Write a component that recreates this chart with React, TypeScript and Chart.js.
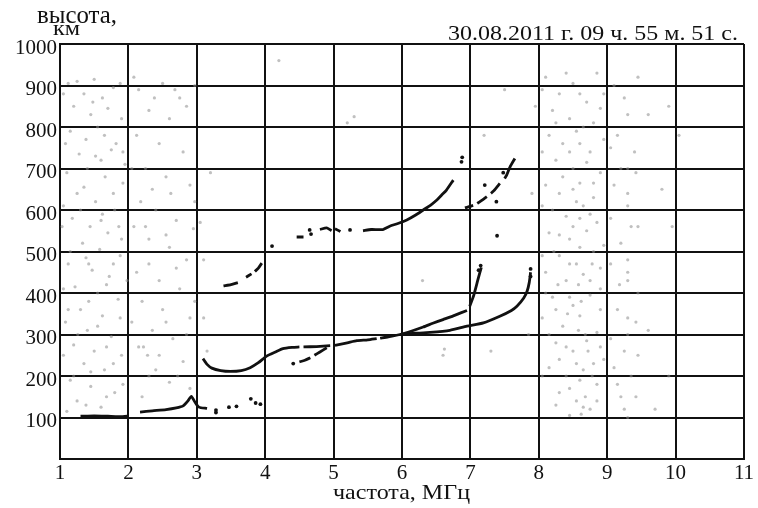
import React, { useEffect, useRef } from "react";
import { Chart, registerables } from "chart.js";

Chart.register(...registerables);

// ---- texts ----
const chartTitle = "30.08.2011 г. 09 ч. 55 м. 51 с.";
const yTitleLines = ["высота,", "км"];
const xTitle = "частота, МГц";

// ---- axes ----
const xMin = 1;
const xMax = 11;
const xStep = 1;
const yMin = 0;
const yMax = 1000;
const yStep = 100;

// ---- traces: [frequency MHz, height km], null = gap ----
type P = [number, number] | null;

const eTrace: P[] = [
  [1.3, 103], [1.5, 104], [1.7, 103], [1.85, 102], [1.98, 103], null,
  [2.17, 113], [2.35, 116], [2.55, 119], [2.7, 123], [2.8, 128], [2.87, 140], [2.92, 151],
  [2.97, 138], [3.03, 125], [3.15, 122],
];
const eDots: [number, number][] = [
  [3.28, 118], [3.28, 112], [3.47, 125], [3.58, 127], [3.79, 145], [3.86, 135], [3.93, 132],
];

const fTraceO: P[] = [
  [3.09, 242], [3.15, 228], [3.22, 219], [3.35, 213], [3.49, 211], [3.65, 213], [3.78, 220],
  [3.9, 232], [4.02, 248], [4.15, 258], [4.26, 266], [4.4, 269], [4.5, 270], null,
  [4.56, 270], [4.75, 271], [4.95, 273], null,
  [5.02, 274], [5.2, 280], [5.34, 285], [5.5, 287], [5.63, 290], null,
  [5.68, 291], [5.8, 294], [5.97, 300], [6.1, 306], [6.31, 318], [6.45, 327], [6.6, 336],
  [6.75, 345], [6.95, 358], null,
  [6.99, 368], [7.05, 395], [7.11, 432], [7.16, 462],
];
const fTraceX: P[] = [
  [6.0, 301], [6.2, 303], [6.41, 305], [6.7, 310], [6.95, 320], [7.19, 328], [7.43, 344],
  [7.6, 358], [7.68, 368], [7.78, 388], [7.83, 405], [7.86, 425], [7.88, 450],
];
const fLowBranch: P[] = [
  [4.5, 234], [4.58, 238], [4.66, 244], null, [4.72, 250], [4.8, 258], [4.9, 268],
];
const fDots: [number, number][] = [
  [4.41, 230], [7.12, 455], [7.15, 466], [7.88, 440], [7.88, 458],
];

const f2Trace: P[] = [
  [3.39, 417], [3.5, 420], [3.6, 425], null,
  [3.72, 438], [3.8, 446], null,
  [3.85, 452], [3.9, 460], [3.95, 472], null,
  [4.46, 535], [4.56, 535], null,
  [4.8, 553], [4.9, 557], [4.97, 550], null,
  [5.02, 555], [5.1, 548], null,
  [5.43, 550], [5.55, 553], [5.72, 553], [5.82, 561], [5.95, 568], [6.07, 576], [6.2, 588],
  [6.31, 600], [6.42, 612], [6.51, 624], [6.58, 636], [6.65, 648], [6.75, 672],
];
const f2Dots: [number, number][] = [
  [4.1, 513], [4.65, 552], [4.67, 542], [5.24, 552], [6.87, 716], [6.88, 727],
];

const upperRight: P[] = [
  [6.92, 605], [6.98, 608], [7.04, 611], null, [7.1, 616], [7.14, 620], [7.24, 632], null,
  [7.3, 640], [7.34, 646], [7.43, 664], null, [7.5, 676], [7.53, 684], [7.58, 704], [7.65, 724],
];
const upperRightDots: [number, number][] = [
  [7.21, 660], [7.38, 620], [7.39, 538], [7.48, 690],
];

// ---- faint background noise ----
const noisePoints: [number, number][] = [
  // 1–2 MHz band
  [1.12, 905], [1.35, 880], [1.5, 915], [1.62, 870], [1.78, 895], [1.2, 850], [1.45, 830],
  [1.7, 845], [1.9, 820], [1.15, 790], [1.38, 770], [1.55, 800], [1.82, 760], [1.28, 735],
  [1.6, 720], [1.75, 745], [1.1, 690], [1.4, 700], [1.66, 680], [1.92, 665], [1.25, 640],
  [1.52, 620], [1.8, 600], [1.18, 580], [1.44, 560], [1.7, 545], [1.33, 520], [1.58, 505],
  [1.88, 490], [1.12, 470], [1.47, 455], [1.72, 440], [1.22, 415], [1.55, 400], [1.85, 385],
  [1.3, 360], [1.62, 345], [1.08, 330], [1.4, 310], [1.75, 295], [1.2, 275], [1.5, 260],
  [1.9, 250], [1.35, 230], [1.65, 215], [1.15, 190], [1.45, 175], [1.8, 160], [1.25, 140],
  [1.6, 125], [1.1, 115], [1.95, 710], [1.98, 430], [1.03, 560], [1.3, 600], [1.6, 575],
  [1.42, 470], [1.26, 300], [1.68, 270], [1.52, 730], [1.86, 560],
  [1.05, 880], [1.25, 910], [1.88, 905], [1.48, 860], [1.08, 760], [1.65, 780], [1.92, 740],
  [1.35, 655], [1.78, 640], [1.05, 610], [1.62, 590], [1.9, 530], [1.15, 500], [1.38, 485],
  [1.78, 470], [1.05, 410], [1.68, 420], [1.42, 380], [1.12, 360], [1.88, 340], [1.55, 320],
  [1.05, 250], [1.78, 230], [1.45, 210], [1.2, 200], [1.92, 180], [1.68, 150], [1.38, 130],
  // 2–3 MHz band
  [2.15, 890], [2.5, 905], [2.75, 870], [2.3, 840], [2.6, 820], [2.85, 850], [2.12, 780],
  [2.45, 760], [2.8, 740], [2.25, 700], [2.55, 680], [2.9, 660], [2.18, 620], [2.4, 600],
  [2.7, 575], [2.95, 555], [2.3, 530], [2.6, 510], [2.85, 480], [2.12, 450], [2.45, 430],
  [2.75, 410], [2.2, 380], [2.5, 360], [2.9, 340], [2.35, 310], [2.65, 290], [2.15, 270],
  [2.45, 250], [2.8, 235], [2.3, 200], [2.6, 185], [2.9, 170], [2.2, 150], [2.97, 900],
  [2.97, 620], [2.97, 380], [2.25, 560], [2.22, 270], [2.28, 250],
  [2.08, 920], [2.38, 870], [2.68, 890], [2.05, 700], [2.35, 650], [2.62, 640], [2.08, 560],
  [2.55, 540], [2.7, 460], [2.3, 470], [2.05, 330], [2.55, 330], [2.85, 300], [2.4, 215],
  [2.72, 200],
  // 8–9 MHz band
  [8.1, 920], [8.3, 880], [8.5, 905], [8.7, 860], [8.85, 930], [8.2, 840], [8.45, 820],
  [8.65, 800], [8.9, 845], [8.15, 780], [8.35, 760], [8.55, 790], [8.75, 740], [8.95, 770],
  [8.25, 720], [8.5, 700], [8.7, 715], [8.9, 690], [8.1, 660], [8.3, 640], [8.6, 665],
  [8.8, 630], [8.2, 600], [8.4, 585], [8.65, 610], [8.85, 570], [8.15, 545], [8.45, 530],
  [8.7, 550], [8.95, 515], [8.3, 490], [8.55, 470], [8.8, 500], [8.1, 450], [8.4, 430],
  [8.65, 445], [8.9, 410], [8.2, 390], [8.5, 370], [8.75, 395], [8.05, 340], [8.35, 320],
  [8.6, 345], [8.85, 305], [8.25, 280], [8.5, 260], [8.7, 285], [8.95, 240], [8.15, 220],
  [8.4, 200], [8.65, 215], [8.85, 180], [8.3, 160], [8.55, 140], [8.75, 120], [8.45, 105],
  [8.62, 108], [8.5, 650], [8.55, 620], [8.6, 580], [8.58, 420], [8.62, 380], [8.68, 300],
  [8.72, 260], [8.22, 500], [8.78, 470], [8.42, 350], [8.8, 230], [8.6, 190], [8.68, 150],
  [8.05, 890], [8.4, 930], [8.6, 880], [8.95, 880], [8.25, 810], [8.8, 810], [8.05, 740],
  [8.45, 740], [8.6, 760], [8.35, 680], [8.8, 665], [8.05, 610], [8.5, 560], [8.75, 590],
  [8.3, 540], [8.6, 510], [8.05, 490], [8.45, 470], [8.9, 460], [8.28, 420], [8.75, 430],
  [8.1, 400], [8.45, 390], [8.9, 360], [8.25, 360], [8.58, 310], [8.15, 300], [8.4, 270],
  [8.9, 270], [8.3, 240], [8.55, 230], [8.05, 200], [8.78, 200], [8.45, 170], [8.25, 130],
  [8.85, 140], [8.65, 125],
  // 9–10 MHz, sparse
  [9.1, 900], [9.25, 870], [9.45, 920], [9.3, 830], [9.15, 780], [9.4, 740], [9.3, 700],
  [9.1, 660], [9.3, 640], [9.3, 610], [9.35, 560], [9.2, 520], [9.3, 480], [9.3, 450],
  [9.3, 430], [9.45, 400], [9.15, 360], [9.3, 340], [9.3, 300], [9.25, 260], [9.1, 220],
  [9.35, 200], [9.2, 150], [9.3, 100], [9.6, 830], [9.9, 850], [9.8, 650], [9.6, 310],
  [9.95, 560], [10.05, 780], [9.9, 200], [9.7, 120],
  [9.05, 750], [9.2, 700], [9.42, 690], [9.05, 580], [9.45, 560], [9.05, 470], [9.18, 420],
  [9.42, 330], [9.05, 290], [9.45, 250], [9.15, 180], [9.42, 150], [9.25, 120],
  // scattered elsewhere
  [3.2, 690], [3.05, 570], [3.1, 480], [3.1, 340], [3.15, 260], [4.2, 960], [5.3, 825],
  [5.2, 810], [7.5, 890], [7.2, 780], [6.3, 430], [7.3, 260], [6.6, 250], [6.62, 265],
  [7.95, 850], [7.9, 640], [7.85, 300],
];

// ---- helpers ----
function toLine(arr: P[]) {
  const out: { x: number; y: number | null }[] = [];
  let lastX = 0;
  for (const p of arr) {
    if (p) {
      out.push({ x: p[0], y: p[1] });
      lastX = p[0];
    } else {
      out.push({ x: lastX, y: null });
    }
  }
  return out;
}
function toPts(arr: [number, number][]) {
  return arr.map((p) => ({ x: p[0], y: p[1] }));
}

const FONT = '"Liberation Serif", "Times New Roman", serif';
const INK = "#111111";

function drawFit(
  ctx: CanvasRenderingContext2D,
  text: string,
  x: number,
  y: number,
  width: number,
  size: number
) {
  ctx.save();
  ctx.font = `${size}px ${FONT}`;
  const w = ctx.measureText(text).width;
  const k = width / w;
  ctx.translate(x, y);
  ctx.scale(k, 1);
  ctx.textAlign = "left";
  ctx.textBaseline = "alphabetic";
  ctx.fillStyle = INK;
  ctx.fillText(text, 0, 0);
  ctx.restore();
}

const textPlugin = {
  id: "ionoText",
  afterDraw(chart: any) {
    const ctx = chart.ctx as CanvasRenderingContext2D;
    drawFit(ctx, yTitleLines[0], 37, 23, 80, 25);
    drawFit(ctx, yTitleLines[1], 53, 35, 27, 20);
    drawFit(ctx, chartTitle, 448, 40, 290, 21);
    drawFit(ctx, xTitle, 333, 499, 137, 21);
  },
};

export default function App() {
  const ref = useRef<HTMLCanvasElement | null>(null);

  useEffect(() => {
    if (!ref.current) return;
    const lineDs = (data: P[]) => ({
      data: toLine(data),
      showLine: true,
      spanGaps: false,
      borderColor: INK,
      backgroundColor: INK,
      borderWidth: 2.8,
      pointRadius: 0,
      tension: 0.2,
      order: 1,
    });
    const dotDs = (data: [number, number][]) => ({
      data: toPts(data),
      showLine: false,
      pointRadius: 1.9,
      pointBackgroundColor: INK,
      pointBorderWidth: 0,
      order: 1,
    });
    const chart = new Chart(ref.current, {
      type: "scatter",
      data: {
        datasets: [
          {
            data: toPts(noisePoints),
            showLine: false,
            pointRadius: 1.6,
            pointBackgroundColor: "rgba(140,140,140,0.55)",
            pointBorderWidth: 0,
            order: 10,
          } as any,
          lineDs(eTrace),
          dotDs(eDots),
          lineDs(fTraceO),
          lineDs(fTraceX),
          lineDs(fLowBranch),
          dotDs(fDots),
          lineDs(f2Trace),
          dotDs(f2Dots),
          lineDs(upperRight),
          dotDs(upperRightDots),
        ],
      },
      options: {
        animation: false,
        responsive: false,
        devicePixelRatio: 1,
        layout: { padding: { top: 44, right: 14, left: 0, bottom: 0 } },
        plugins: {
          legend: { display: false },
          tooltip: { enabled: false },
          title: { display: false },
        },
        scales: {
          x: {
            type: "linear",
            min: xMin,
            max: xMax,
            ticks: {
              stepSize: xStep,
              color: INK,
              font: { family: FONT, size: 21 },
              padding: 2,
              maxRotation: 0,
              autoSkip: false,
            },
            grid: { color: INK, lineWidth: 2, drawTicks: false },
            border: { color: INK, width: 2 },
            afterFit: (s: any) => {
              s.height = 49;
            },
          },
          y: {
            type: "linear",
            min: yMin,
            max: yMax,
            ticks: {
              stepSize: yStep,
              color: INK,
              font: { family: FONT, size: 21 },
              padding: 3,
              labelOffset: 4,
              callback: (v: any) => (v === 0 ? "" : String(v)),
            },
            grid: { color: INK, lineWidth: 2, drawTicks: false },
            border: { color: INK, width: 2 },
            afterFit: (s: any) => {
              s.width = 60;
            },
          },
        },
      } as any,
      plugins: [textPlugin],
    });
    return () => chart.destroy();
  }, []);

  return (
    <div
      style={{
        position: "fixed",
        left: 0,
        top: 0,
        width: 758,
        height: 508,
        background: "#ffffff",
      }}
    >
      <canvas ref={ref} width={758} height={508} style={{ width: 758, height: 508 }} />
    </div>
  );
}
